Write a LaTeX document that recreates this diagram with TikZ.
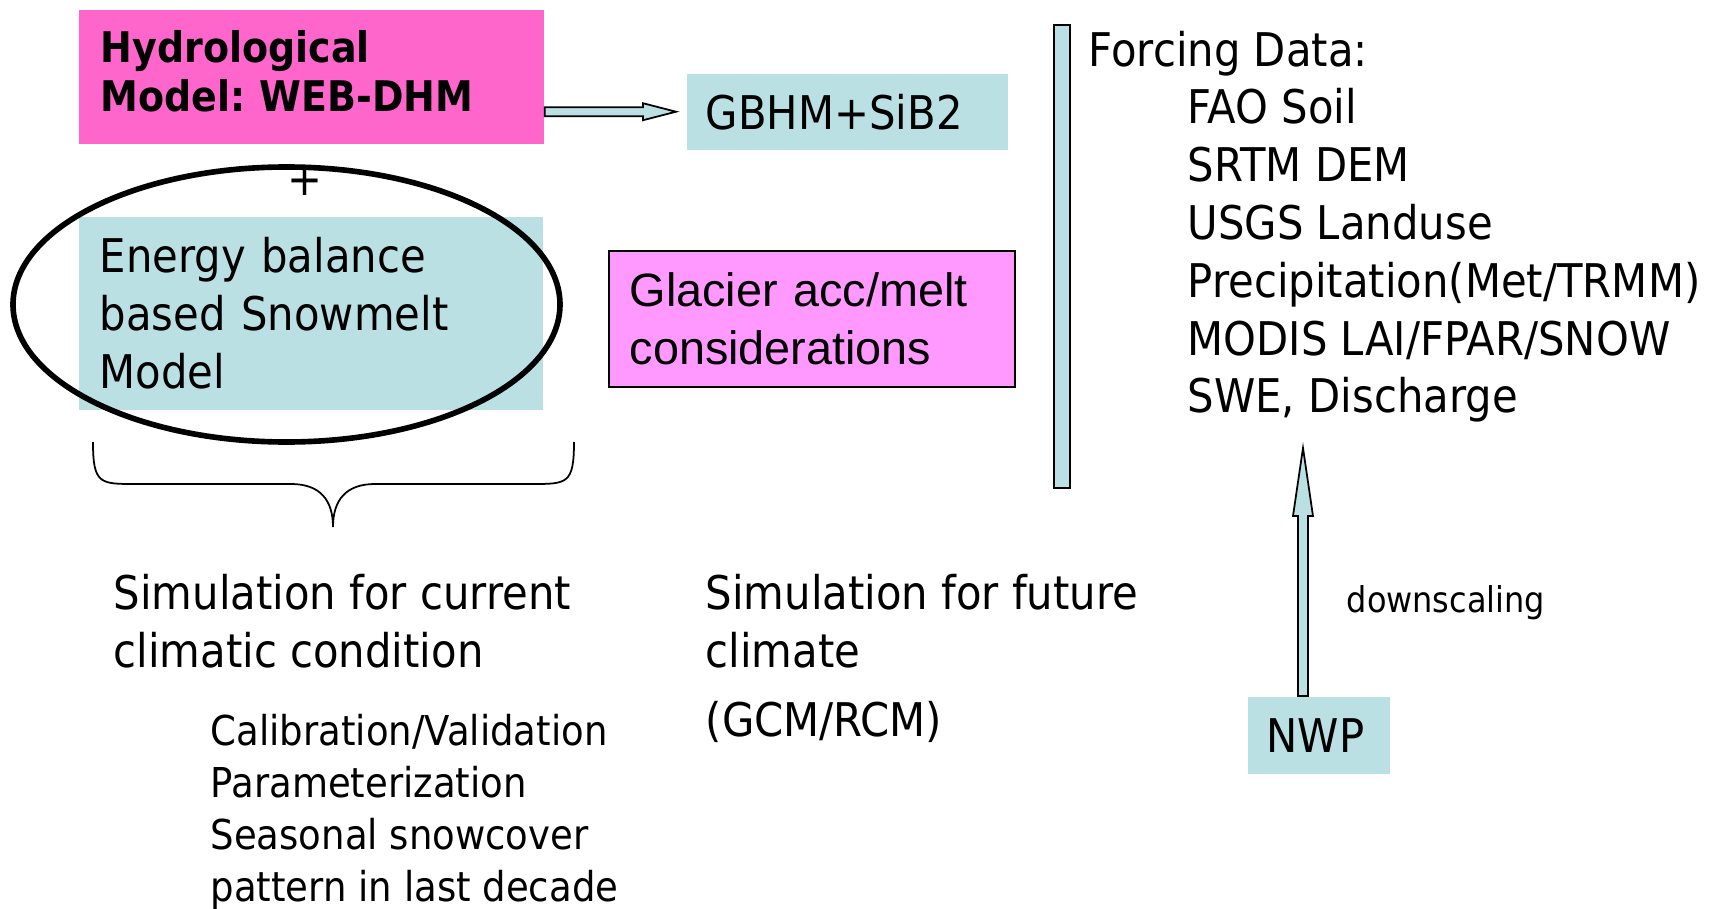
\documentclass[tikz,border=0pt]{standalone}
\usepackage{fontspec}
\setmainfont{DejaVu Sans}[FakeStretch=0.9]
\newfontfamily\arialfont{Liberation Sans}
\usetikzlibrary{calc}
\definecolor{modelpink}{HTML}{FF66CC}
\definecolor{glacpink}{HTML}{FF99FF}
\definecolor{boxcyan}{HTML}{BBE0E3}
\tikzset{
  filledbox/.style={anchor=north west, inner ysep=0pt, align=left},
  plaintext/.style={anchor=base west, inner sep=0pt, align=left},
  blockarr/.style={draw=black, line width=0.5pt, fill=boxcyan, line join=miter},
}
\newcommand{\maintext}{\fontsize{13.2}{16.4}\selectfont}
\newcommand{\smalltext}{\fontsize{11.7}{14.7}\selectfont}
\begin{document}
\frenchspacing
\begin{tikzpicture}[x=0.01cm,y=-0.01cm]
    \useasboundingbox (0,0) rectangle (1723,909);
    % model boxes
    \node[filledbox, fill=modelpink, inner xsep=2.2mm, text width=4.21cm, text height=0.53cm, text depth=0.81cm,
          font=\fontsize{12}{14}\selectfont\bfseries] (hydro) at (78,9) {Hydrological\\Model: WEB-DHM};
    \node[filledbox, fill=boxcyan, inner xsep=1.9mm, text width=2.83cm, minimum height=0.76cm,
          font=\maintext] (gbhm) at (686,73) {GBHM+SiB2};
    \node[filledbox, fill=boxcyan, inner xsep=2.1mm, text width=4.22cm, minimum height=1.93cm,
          font=\maintext] (snow) at (78,216) {Energy balance\\based Snowmelt\\Model};
    \node[filledbox, draw=black, line width=0.45pt, fill=glacpink, inner xsep=2.1mm, text width=3.64cm,
          minimum height=1.36cm, font=\arialfont\fontsize{13.3}{16.5}\selectfont] (glacier) at (608,250)
          {Glacier acc/melt\\considerations};
    \node[filledbox, fill=boxcyan, inner xsep=1.9mm, text width=1.04cm, minimum height=0.77cm,
          font=\maintext] (nwp) at (1247,696) {NWP};
    \node[filledbox, draw=black, line width=0.6pt, fill=boxcyan, inner sep=0pt,
          minimum width=0.16cm, minimum height=4.63cm] (bar) at (1053,24) {};

    % snowmelt model circled, with the plus sign on top
    \draw[line width=1.6pt] (286.5,304.5) ellipse [x radius=273.5, y radius=137.5];
    \node[font=\maintext, inner sep=0pt] (plus) at (305,181) {+};

    % brace under the snowmelt model
    \draw[line width=0.5pt] (93,442) .. controls (93,484) and (100,484) .. (135,484) -- (291,484)
        .. controls (320,484) and (333,500) .. (333,527)
        .. controls (333,500) and (346,484) .. (375,484) -- (532,484)
        .. controls (567,484) and (574,484) .. (574,442);

    % block arrows
    \coordinate (a1s) at (hydro.east |- gbhm.west);
    \coordinate (a1e) at ($(gbhm.west)+(-10,0)$);
    \draw[blockarr] ($(a1s)+(0,-4.5)$) -- ($(a1e)+(-33,-4.5)$) -- ($(a1e)+(-33,-8.5)$) -- (a1e)
        -- ($(a1e)+(-33,8.5)$) -- ($(a1e)+(-33,4.5)$) -- ($(a1s)+(0,4.5)$) -- cycle;
    \coordinate (a2s) at ($(nwp.north west)+(56,0)$);
    \coordinate (a2e) at (1303,448);
    \draw[blockarr] ($(a2s)+(-5,0)$) -- ($(a2e)+(-5,68)$) -- ($(a2e)+(-10,68)$) -- (a2e)
        -- ($(a2e)+(10,68)$) -- ($(a2e)+(5,68)$) -- ($(a2s)+(5,0)$) -- cycle;
    \node[plaintext, font=\fontsize{10.1}{12}\selectfont] (down) at (1346,612) {downscaling};

    % forcing data list
    \node[plaintext, font=\maintext] (forcing) at (1088,66) {Forcing Data:};
    \foreach \txt [count=\i] in {FAO Soil, SRTM DEM, USGS Landuse, Precipitation(Met/TRMM),
                                 MODIS LAI/FPAR/SNOW, {SWE, Discharge}}
        \node[plaintext, font=\maintext] (data\i) at (1187,{66+57.8*\i}) {\txt};

    % simulation texts (base = last line)
    \node[plaintext, font=\maintext] (current) at (113,667)
        {Simulation for current\\climatic condition};
    \node[plaintext, font=\smalltext] (calib) at (210,901)
        {Calibration/Validation\\Parameterization\\Seasonal snowcover\\pattern in last decade};
    \node[plaintext, font=\maintext] (future) at (705,667) {Simulation for future\\climate};
    \node[plaintext, font=\maintext] (gcm) at (705,736) {(GCM/RCM)};
\end{tikzpicture}
\end{document}
